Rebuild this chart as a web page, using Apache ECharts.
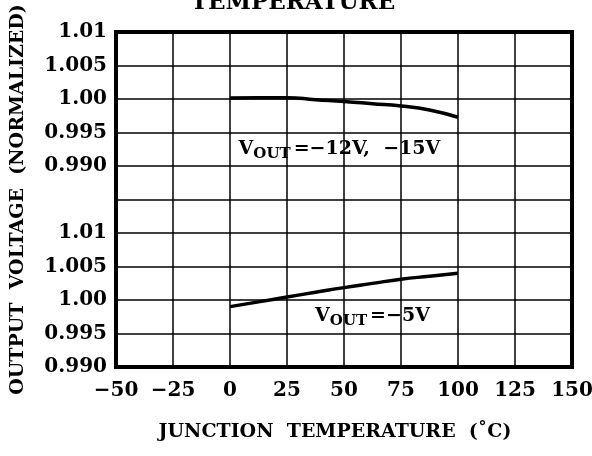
<!DOCTYPE html>
<html>
<head>
<meta charset="utf-8">
<script src="https://cdn.jsdelivr.net/npm/echarts@6/dist/echarts.min.js"></script>
<style>
  html, body { margin: 0; padding: 0; background: #fff; }
  #chart { width: 592px; height: 456px; }
</style>
</head>
<body>
<div id="chart"></div>
<script>
// junction temperature (C)
const temps = [0, 12.5, 25, 37.5, 50, 62.5, 75, 87.5, 100];
// normalized output, Vout = -12V / -15V
const vout12 = [1.00015, 1.0002, 1.0002, 0.9999, 0.99963, 0.9993, 0.99896, 0.99836, 0.99727];
// normalized output, Vout = -5V
const vout5 = [0.99901, 0.99972, 1.00045, 1.00115, 1.00185, 1.00248, 1.0031, 1.00355, 1.004];
const xTicks = ['\u221250', '\u221225', '0', '25', '50', '75', '100', '125', '150'];
const yTicks = ['0.990', '0.995', '1.00', '1.005', '1.01'];

const FONT = 'DejaVu Serif';
const axisText = { color: '#000', fontFamily: FONT, fontWeight: 'bold', fontSize: 20 };

const L = 116, W = 456, T = 32, H = 335, band = H / 10;

function sideY(idx) {
  return {
    gridIndex: idx, type: 'value', min: 0.99, max: 1.01, interval: 0.005,
    axisLine: { show: false }, axisTick: { show: false }, splitLine: { show: false },
    axisLabel: Object.assign({
      margin: 9,
      formatter: v => yTicks[Math.round((v - 0.99) / 0.005)]
    }, axisText)
  };
}
function hiddenX(idx) {
  return { gridIndex: idx, type: 'value', min: -50, max: 150, show: false };
}

const labelRich = {
  v: { fontFamily: FONT, fontWeight: 'bold', fontSize: 19, color: '#000' },
  s: { fontFamily: FONT, fontWeight: 'bold', fontSize: 15, color: '#000', padding: [10, 3, 0, 0] }
};

function curve(idx, data, label, at) {
  return {
    type: 'line', xAxisIndex: idx, yAxisIndex: idx, smooth: true, symbol: 'none',
    data: temps.map((t, i) => [t, data[i]]),
    lineStyle: { color: '#000', width: 3.5 },
    markPoint: {
      symbol: 'circle', symbolSize: 0,
      label: { show: true, position: 'inside', formatter: label, rich: labelRich },
      data: [{ coord: at }]
    }
  };
}

const chart = echarts.init(document.getElementById('chart'));
chart.setOption({
  backgroundColor: '#fff',
  animation: false,
  title: {
    text: 'TEMPERATURE', left: 288, textAlign: 'center', top: -13,
    textStyle: { fontFamily: FONT, fontWeight: 'bold', fontSize: 23, color: '#000' }
  },
  grid: [
    { left: L, top: T, width: W, height: H, show: true, borderColor: '#000', borderWidth: 4, backgroundColor: 'transparent', z: 3, outerBoundsMode: 'none' },
    { left: L, top: T, width: W, height: band * 4, outerBoundsMode: 'none' },
    { left: L, top: T + band * 6, width: W, height: band * 4, outerBoundsMode: 'none' }
  ],
  xAxis: [
    {
      gridIndex: 0, type: 'value', min: -50, max: 150, interval: 25,
      name: 'JUNCTION  TEMPERATURE  (\u02DaC)', nameLocation: 'middle', nameGap: 56,
      nameTextStyle: { color: '#000', fontFamily: FONT, fontWeight: 'bold', fontSize: 19, padding: [0, 18, 0, 0] },
      axisLine: { show: false }, axisTick: { show: false },
      splitLine: { show: true, lineStyle: { color: '#000', width: 1.5 } },
      axisLabel: Object.assign({
        margin: 14, showMinLabel: true, showMaxLabel: true,
        formatter: v => xTicks[Math.round((v + 50) / 25)]
      }, axisText)
    },
    hiddenX(1), hiddenX(2)
  ],
  yAxis: [
    {
      gridIndex: 0, type: 'value', min: 0, max: 10, interval: 1,
      name: 'OUTPUT  VOLTAGE  (NORMALIZED)', nameLocation: 'middle', nameGap: 88,
      nameTextStyle: { color: '#000', fontFamily: FONT, fontWeight: 'bold', fontSize: 19 },
      axisLine: { show: false }, axisTick: { show: false }, axisLabel: { show: false },
      splitLine: { show: true, lineStyle: { color: '#000', width: 1.5 } }
    },
    sideY(1), sideY(2)
  ],
  series: [
    curve(1, vout12, '{v|V}{s|OUT}{v|=\u221212V,  \u221215V}', [48, 0.99255]),
    curve(2, vout5, '{v|V}{s|OUT}{v|=\u22125V}', [62.5, 0.99755])
  ]
});
</script>
</body>
</html>
